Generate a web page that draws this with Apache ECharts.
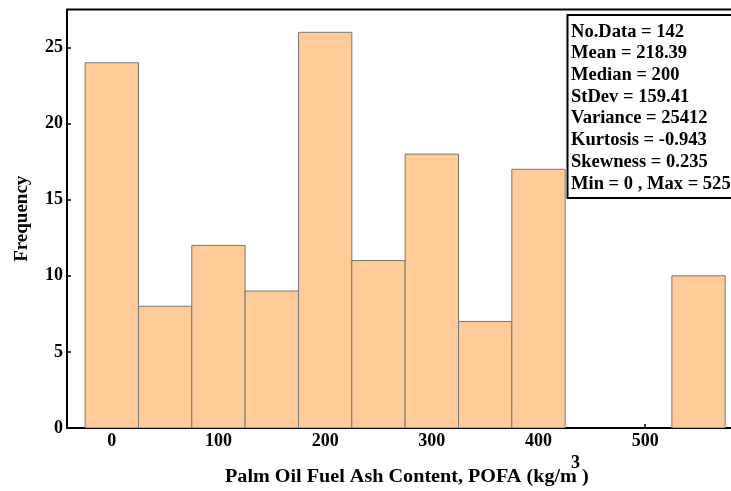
<!DOCTYPE html>
<html>
<head>
<meta charset="utf-8">
<script src="https://cdn.jsdelivr.net/npm/echarts@6/dist/echarts.min.js"></script>
<style>
  html, body { margin: 0; padding: 0; background: #fff; overflow: hidden; width: 731px; height: 491px; }
  /* plot frame continues past the right edge of the window */
  #chart { width: 790px; height: 491px; }
</style>
</head>
<body>
<div id="chart"></div>
<script>
// Histogram of POFA content: bin centres (kg/m3) and counts per bin
const binCenters = [0, 50, 100, 150, 200, 250, 300, 350, 400, 450, 500, 550];
const binCounts = [24, 8, 12, 9, 26, 11, 18, 7, 17, 0, 0, 10];
const binWidth = 50;
const xTicks = [0, 100, 200, 300, 400, 500];
const yTicks = [0, 5, 10, 15, 20, 25];
const statLines = [
  'No.Data = 142',
  'Mean = 218.39',
  'Median = 200',
  'StDev = 159.41',
  'Variance = 25412',
  'Kurtosis = -0.943',
  'Skewness = 0.235',
  'Min = 0 , Max = 525'
];

const FONT = '"Liberation Serif", "Times New Roman", serif';
const chart = echarts.init(document.getElementById('chart'));

const barData = binCenters.map((c, i) => [c, binCounts[i]]);

chart.setOption({
  backgroundColor: '#ffffff',
  animation: false,
  grid: { left: 67, top: 9.5, right: 20, bottom: 63, show: false, containLabel: false },
  xAxis: {
    type: 'value',
    min: -42,
    max: 617,
    axisLine: { show: true, onZero: false, lineStyle: { color: '#000', width: 2 } },
    axisTick: { show: true, inside: true, length: 4, customValues: xTicks, lineStyle: { color: '#000', width: 1.5 } },
    axisLabel: { customValues: xTicks, margin: 4, color: '#000', fontFamily: FONT, fontWeight: 'bold', fontSize: 18 },
    splitLine: { show: false }
  },
  yAxis: [{
    type: 'value',
    min: 0,
    max: 27.5,
    name: 'Frequency',
    nameLocation: 'middle',
    nameGap: 35,
    nameTextStyle: { color: '#000', fontFamily: FONT, fontWeight: 'bold', fontSize: 19 },
    axisLine: { show: true, onZero: false, lineStyle: { color: '#000', width: 2 } },
    axisTick: { show: true, inside: true, length: 4, customValues: yTicks, lineStyle: { color: '#000', width: 1.5 } },
    axisLabel: { customValues: yTicks, margin: 4, color: '#000', fontFamily: FONT, fontWeight: 'bold', fontSize: 18 },
    splitLine: { show: false }
  }],
  series: [{
    type: 'custom',
    data: barData,
    clip: true,
    renderItem: function (params, api) {
      const x = api.value(0);
      const y = api.value(1);
      if (y <= 0) return null;
      const p0 = api.coord([x - binWidth / 2, y]);
      const p1 = api.coord([x + binWidth / 2, 0]);
      return {
        type: 'rect',
        shape: { x: p0[0], y: p0[1], width: p1[0] - p0[0], height: p1[1] - p0[1] },
        style: { fill: '#FFCC99', stroke: '#777777', lineWidth: 1 }
      };
    }
  }],
  graphic: [
    // top frame line of the plot area
    { type: 'line', z: 100, shape: { x1: 67, y1: 9.5, x2: 790, y2: 9.5 }, style: { stroke: '#000', lineWidth: 2 } },
    // statistics box
    { type: 'rect', z: 100, shape: { x: 567.5, y: 15, width: 200, height: 183 }, style: { fill: '#fff', stroke: '#000', lineWidth: 2 } },
    ...statLines.map((t, i) => ({
      type: 'text', z: 101, left: 571, top: 23 + i * 21.7, scaleX: 1.03,
      style: { text: t, fill: '#000', font: 'bold 18px ' + FONT }
    })),
    // x-axis title with superscript
    { type: 'text', z: 100, left: 225, top: 468, scaleX: 1.12,
      style: { text: 'Palm Oil Fuel Ash Content, POFA (kg/m )', fill: '#000', font: 'bold 18px ' + FONT } },
    { type: 'text', z: 100, left: 571, top: 454,
      style: { text: '3', fill: '#000', font: 'bold 18px ' + FONT } }
  ]
});
</script>
</body>
</html>
